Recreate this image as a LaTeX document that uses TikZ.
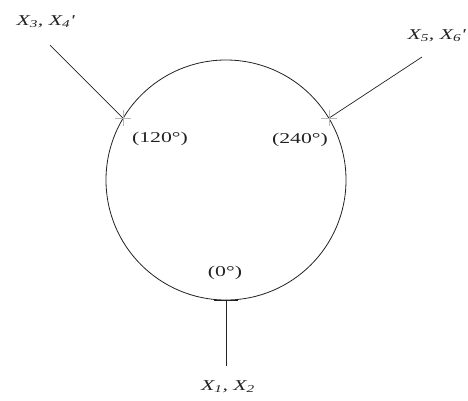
\documentclass[tikz,border=0pt]{standalone}
\usepackage{fontspec}
\setmainfont{Liberation Serif}
\newfontfamily\lblfont[FakeStretch=1.45]{Liberation Serif}
\usetikzlibrary{calc, positioning}
\definecolor{ink}{HTML}{222222}
\definecolor{faint}{HTML}{B8B8B8}

\begin{document}
\begin{tikzpicture}[x=1pt, y=-1pt,
      ring/.style={draw=ink, circle, line width=0.8pt, minimum size=240pt, inner sep=0pt},
      feed/.style={draw=ink, line width=0.7pt},
      term/.style={font=\lblfont\fontsize{15}{17}\selectfont\itshape, text=ink, inner sep=1pt},
      ang/.style={font=\lblfont\fontsize{15}{17}\selectfont, text=ink, inner sep=1pt},
      tick/.style={draw=faint, line width=0.5pt}
  ]
    \useasboundingbox (0,0) rectangle (468,400);
    \node[ring] (loop) at (226,180) {};
    % tapping points on the loop
    \coordinate (pa) at (loop.270);
    \coordinate (pb) at (loop.149);
    \coordinate (pc) at (loop.31);
    \coordinate (ea) at (226,366);
    \coordinate (eb) at (50,45);
    \coordinate (ec) at (422,57);
    \node[term] (ta) at (228,387) {X\textsubscript{1}, X\textsubscript{2}};
    \node[term] (tb) at (45,22)   {X\textsubscript{3}, X\textsubscript{4}\textquotesingle};
    \node[term] (tc) at (436,36)  {X\textsubscript{5}, X\textsubscript{6}\textquotesingle};
    \node[ang] (aa) at (225,273) {(0\textdegree)};
    \node[ang] (ab) at (160,139) {(120\textdegree)};
    \node[ang] (ac) at (300,140) {(240\textdegree)};
    \draw[feed] (pa) -- (ea);
    \draw[feed] (pb) -- (eb);
    \draw[feed] (pc) -- (ec);
    \foreach \p in {pb, pc}
      \draw[tick] ($(\p)+(-8,0)$) -- ($(\p)+(8,0)$) ($(\p)+(0,-8)$) -- ($(\p)+(0,8)$);
    \draw[ink, line width=1.6pt] ($(pa)+(-12,0)$) -- ($(pa)+(12,0)$);
  \end{tikzpicture}
\end{document}
